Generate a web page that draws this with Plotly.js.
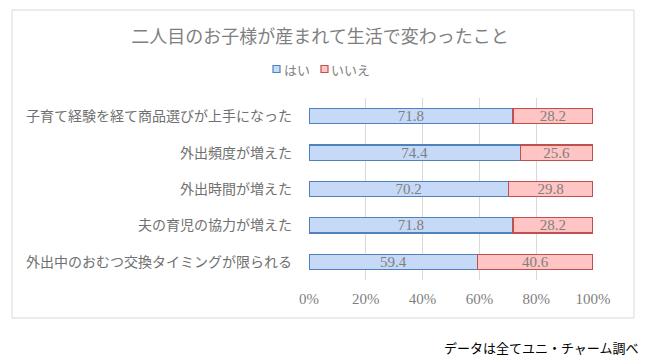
<!DOCTYPE html>
<html>
<head>
<meta charset="utf-8">
<script src="https://cdn.plot.ly/plotly-3.0.1.min.js"></script>
<style>html,body{margin:0;padding:0;background:#fff;}#chart{width:652px;height:362px;}</style>
</head>
<body>
<div id="chart"></div>
<script>
const categories = [
  "子育て経験を経て商品選びが上手になった",
  "外出頻度が増えた",
  "外出時間が増えた",
  "夫の育児の協力が増えた",
  "外出中のおむつ交換タイミングが限られる"
];
const yesValues = [71.8, 74.4, 70.2, 71.8, 59.4];
const noValues = [28.2, 25.6, 29.8, 28.2, 40.6];
const seriesNames = ["はい", "いいえ"];
const xTickVals = [0, 20, 40, 60, 80, 100];
const xTickText = ["0%", "20%", "40%", "60%", "80%", "100%"];
const titleText = "二人目のお子様が産まれて生活で変わったこと";
const sourceText = "データは全てユニ・チャーム調べ";

const jp = '"Noto Sans CJK JP", sans-serif';
const num = '"Liberation Serif", "DejaVu Serif", serif';
const grey = '#7f7f7f';
const fills = ['#c6d9f7', '#ffc4c4'];
const edges = ['#4f81bd', '#c0504d'];

const traces = [yesValues, noValues].map((vals, i) => ({
  type: 'bar', orientation: 'h', name: seriesNames[i],
  y: categories, x: vals,
  marker: {color: fills[i], line: {color: edges[i], width: 1.3}},
  text: vals.map(v => v.toFixed(1)), textposition: 'inside', insidetextanchor: 'middle',
  constraintext: 'none',
  textfont: {family: num, size: 15, color: grey},
  hoverinfo: 'skip', showlegend: false
}));

const L = 309, R = 593, T = 98, B = 280, W = 652, H = 362;
const pw = R - L, ph = B - T;
const px = p => (p - L) / pw;
const py = p => (B - p) / ph;

// custom legend (square + label), placed in pixel terms
const legendItems = [
  {sq: 273, tx: 282},
  {sq: 321, tx: 329}
];
const legendShapes = legendItems.map((it, i) => ({
  type: 'rect', xref: 'paper', yref: 'paper',
  x0: px(it.sq), x1: px(it.sq + 7), y0: py(72.5), y1: py(65.5),
  fillcolor: fills[i], line: {color: edges[i], width: 1.2}
}));
const legendAnns = legendItems.map((it, i) => ({
  text: seriesNames[i], xref: 'paper', yref: 'paper', x: px(it.tx), y: py(69.5),
  xanchor: 'left', yanchor: 'middle', showarrow: false,
  font: {family: jp, size: 13, color: grey}
}));

const layout = {
  width: W, height: H,
  margin: {l: L, r: W - R, t: T, b: H - B, pad: 0},
  paper_bgcolor: '#fff', plot_bgcolor: '#fff',
  barmode: 'stack', bargap: 0.58,
  showlegend: false,
  title: {text: titleText, font: {family: jp, size: 18, color: grey}, x: 320 / W, xanchor: 'center', y: 1 - 37 / H, yanchor: 'middle'},
  xaxis: {range: [0, 100], tickvals: xTickVals, ticktext: xTickText, showgrid: true, gridcolor: '#d9d9d9', gridwidth: 1,
    zeroline: false, showline: false, ticks: '', ticklabelstandoff: 8,
    tickfont: {family: num, size: 15, color: grey}, fixedrange: true},
  yaxis: {type: 'category', autorange: 'reversed', showgrid: false, zeroline: false, showline: false,
    ticks: '', ticklabelstandoff: 16, tickfont: {family: jp, size: 14, color: '#707070'}, fixedrange: true},
  shapes: [
    {type: 'rect', xref: 'paper', yref: 'paper', x0: px(12), x1: px(634), y0: py(318), y1: py(10),
      line: {color: '#d9d9d9', width: 1}, fillcolor: 'rgba(0,0,0,0)', layer: 'below'}
  ].concat(legendShapes),
  annotations: [
    {text: sourceText, xref: 'paper', yref: 'paper', x: px(640), y: py(347), xanchor: 'right', yanchor: 'middle',
      showarrow: false, font: {family: jp, size: 13, color: '#000'}}
  ].concat(legendAnns)
};

Plotly.newPlot('chart', traces, layout, {displayModeBar: false, staticPlot: true});
</script>
</body>
</html>
